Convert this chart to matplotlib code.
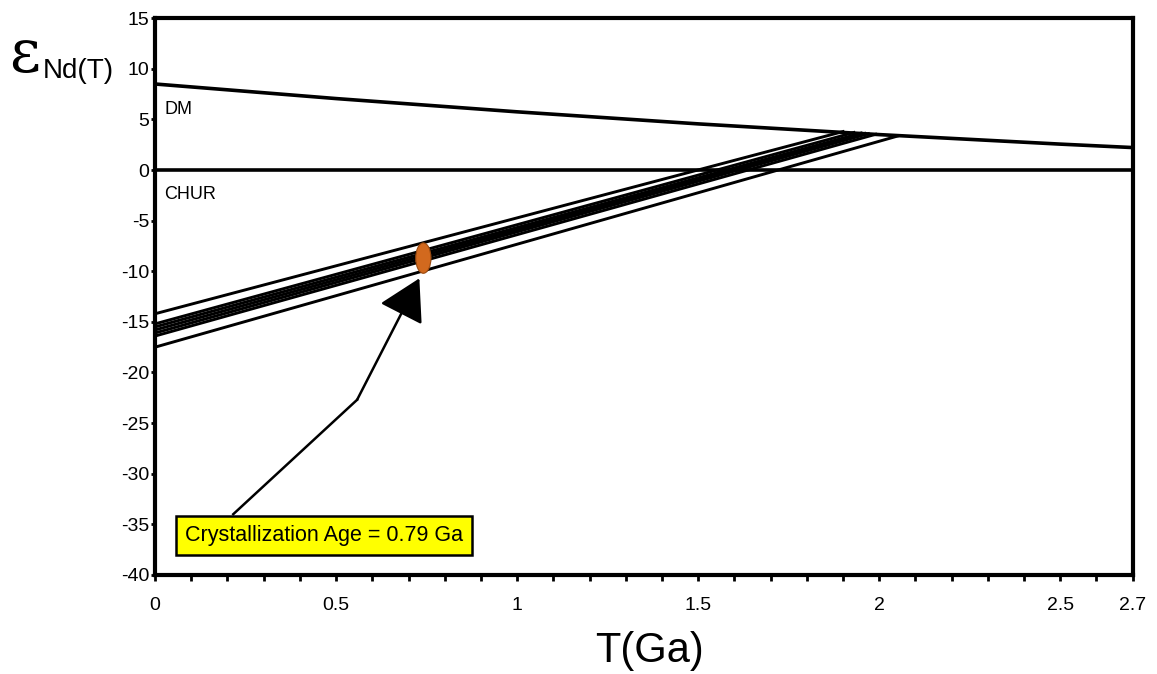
import matplotlib.pyplot as plt
from matplotlib.patches import Ellipse
from matplotlib.ticker import MultipleLocator, FixedLocator

plt.rcParams['font.family'] = ['Liberation Sans', 'DejaVu Sans']
plt.rcParams['axes.unicode_minus'] = False

# Depleted mantle curve, read at a few ages
dm_t = [0.0, 0.5, 1.0, 1.5, 2.0, 2.5, 2.7]
dm_eps = [8.5, 7.06, 5.75, 4.56, 3.5, 2.56, 2.22]

# Sample evolution lines: eNd today -> eNd at TDM on the DM curve
amostra_eps0 = [-14.2, -15.2, -15.5, -15.8, -16.1, -16.4, -17.5]
amostra_tdm = [1.90, 1.93, 1.95, 1.96, 1.97, 1.99, 2.05]
amostra_eps_tdm = [3.80, 3.71, 3.65, 3.62, 3.59, 3.53, 3.35]

# crystallization marker and arrow path
elipse_t, elipse_eps = 0.741, -8.7
seta_t = [0.216, 0.558, 0.730]
seta_eps = [-34.0, -22.7, -10.7]
rotulo_idade = "Crystallization Age = 0.79 Ga"

xticks = [0, 0.5, 1, 1.5, 2, 2.5, 2.7]
xticklabels = ["0", "0.5", "1", "1.5", "2", "2.5", "2.7"]

fig = plt.figure(figsize=(11.57, 6.74), dpi=100)
ax = fig.add_axes([0.134, 0.147, 0.845, 0.826])

ax.plot(dm_t, dm_eps, color="black", lw=2.6, zorder=3)
ax.axhline(0, color="black", lw=2.6, zorder=3)

for e0, t1, e1 in zip(amostra_eps0, amostra_tdm, amostra_eps_tdm):
    ax.plot([0, t1], [e0, e1], color="black", lw=2.1, zorder=3)

ax.add_patch(Ellipse((elipse_t, elipse_eps), width=0.042, height=3.0,
                     facecolor="#d2691e", edgecolor="#9a4a10", lw=0.8, zorder=5))

ax.plot(seta_t[:2], seta_eps[:2], color="black", lw=1.8, zorder=4)
ax.annotate("", xy=(seta_t[2], seta_eps[2]), xytext=(seta_t[1], seta_eps[1]),
            arrowprops=dict(arrowstyle="-|>,head_length=1.3,head_width=0.75",
                            color="black", lw=1.8, mutation_scale=20,
                            shrinkA=0, shrinkB=0), zorder=4)

ax.text(0.084, -36.1, rotulo_idade, fontsize=15.5, ha="left", va="center",
        bbox=dict(boxstyle="square,pad=0.42", facecolor="#ffff00",
                  edgecolor="black", lw=1.8), zorder=6)

ax.text(0.025, 6.0, "DM", fontsize=13, ha="left", va="center")
ax.text(0.025, -2.4, "CHUR", fontsize=13, ha="left", va="center")

ax.set_xlim(0, 2.7)
ax.set_ylim(-40, 15)
ax.xaxis.set_major_locator(FixedLocator(xticks))
ax.set_xticklabels(xticklabels)
ax.xaxis.set_minor_locator(MultipleLocator(0.1))
ax.yaxis.set_major_locator(MultipleLocator(5))
ax.tick_params(axis="both", which="both", direction="out", width=2, labelsize=14)
ax.tick_params(axis="x", which="major", length=4, pad=12)
ax.tick_params(axis="x", which="minor", length=4)
ax.tick_params(axis="y", which="major", length=3, pad=1)
for lado in ax.spines.values():
    lado.set_linewidth(3)

fig.text(0.008, 0.893, "\u03b5", fontsize=43, ha="left", va="baseline",
         family="DejaVu Serif")
fig.text(0.037, 0.884, "Nd(T)", fontsize=20, ha="left", va="baseline")
fig.text(0.561, 0.018, "T(Ga)", fontsize=30, ha="center", va="baseline")

plt.savefig("out.png", dpi=100)
